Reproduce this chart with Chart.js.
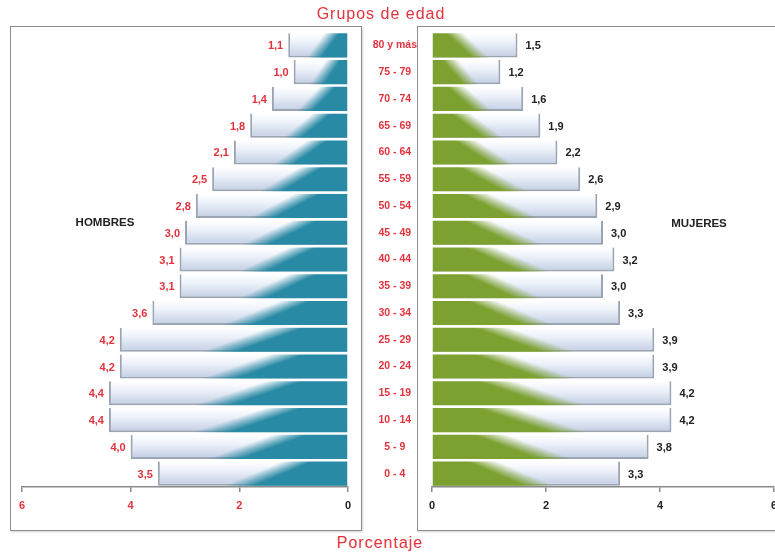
<!DOCTYPE html>
<html lang="es">
<head>
<meta charset="utf-8">
<title>Pirámide de población por grupos de edad</title>
<script src="https://cdn.jsdelivr.net/npm/chart.js@4.4.1/dist/chart.umd.min.js"></script>
<style>
  html, body { margin: 0; padding: 0; background: #fff; }
  body { position: relative; width: 775px; height: 555px; overflow: hidden; font-family: "Liberation Sans", Arial, sans-serif; }
  .panel { position: absolute; top: 26px; height: 503px; border: 1.5px solid #8e8e8e; box-shadow: 1px 1px 2px rgba(0,0,0,0.18); }
  #panel-h { left: 10px; width: 350px; }
  #panel-m { left: 417px; width: 420px; }
  .wrap { position: absolute; top: 0; height: 530px; }
  #wrap-h { left: 0; width: 365px; }
  #wrap-m { left: 365px; width: 420px; }
  .txt { position: absolute; white-space: nowrap; transform: translate(-50%, -50%); }
  .axis-title { color: #e2333d; font-size: 16px; letter-spacing: 1px; }
  .sexo { font-weight: bold; font-size: 11.5px; color: #222; }
</style>
</head>
<body>
<div class="panel" id="panel-h"></div>
<div class="panel" id="panel-m"></div>
<div class="wrap" id="wrap-h"><canvas id="chart-h"></canvas></div>
<div class="wrap" id="wrap-m"><canvas id="chart-m"></canvas></div>
<div class="txt axis-title" style="left:381px; top:14px;">Grupos de edad</div>
<div class="txt axis-title" style="left:380px; top:543px;">Porcentaje</div>
<div class="txt sexo" style="left:105px; top:222px;">HOMBRES</div>
<div class="txt sexo" style="left:699px; top:223px;">MUJERES</div>

<script>
// grupos de edad, de arriba hacia abajo
const ages = ['80 y más', '75 - 79', '70 - 74', '65 - 69', '60 - 64', '55 - 59', '50 - 54', '45 - 49',
  '40 - 44', '35 - 39', '30 - 34', '25 - 29', '20 - 24', '15 - 19', '10 - 14', '5 - 9', '0 - 4'];
const hombres = [1.1, 1.0, 1.4, 1.8, 2.1, 2.5, 2.8, 3.0, 3.1, 3.1, 3.6, 4.2, 4.2, 4.4, 4.4, 4.0, 3.5];
const mujeres = [1.5, 1.2, 1.6, 1.9, 2.2, 2.6, 2.9, 3.0, 3.2, 3.0, 3.3, 3.9, 3.9, 4.2, 4.2, 3.8, 3.3];
const xTicks = [0, 2, 4, 6];

const RED = '#e2333d';
const AXIS = '#8a8a8a';
const FONT = '"Liberation Sans", Arial, sans-serif';

// size of one bar, taken from the category scale
function barSize(chart) {
  const y = chart.scales.y;
  const pitch = Math.abs(y.getPixelForValue(1) - y.getPixelForValue(0));
  return pitch * 0.9;
}

// light part of the bar: white on top, pale blue at the bottom
function lightFill(ctx) {
  const chart = ctx.chart;
  if (ctx.dataIndex === undefined || !chart.chartArea) return '#dde5f3';
  const yc = chart.scales.y.getPixelForValue(ctx.dataIndex);
  const h = barSize(chart);
  const g = chart.ctx.createLinearGradient(0, yc - h / 2, 0, yc + h / 2);
  g.addColorStop(0, '#ffffff');
  g.addColorStop(0.35, '#eef2fa');
  g.addColorStop(1, '#c2cee4');
  return g;
}

// coloured wedge from the zero end, slanted boundary like the original gradient
function wedgeFill(rgb) {
  return (ctx) => {
    const chart = ctx.chart;
    if (ctx.dataIndex === undefined || !chart.chartArea) return 'rgb(' + rgb + ')';
    const x = chart.scales.x, y = chart.scales.y;
    const x0 = x.getPixelForValue(0);
    const L = x.getPixelForValue(ctx.raw) - x0;
    const yc = y.getPixelForValue(ctx.dataIndex);
    const h = barSize(chart);
    const cx = x0 + 0.42 * L;
    let nx = h, ny = -0.3 * L;
    const len = Math.hypot(nx, ny) || 1;
    nx /= len; ny /= len;
    if (nx * (x0 - cx) < 0) { nx = -nx; ny = -ny; }
    const w = 6;
    const g = chart.ctx.createLinearGradient(cx - nx * w, yc - ny * w, cx + nx * w, yc + ny * w);
    g.addColorStop(0, 'rgba(' + rgb + ',0)');
    g.addColorStop(1, 'rgba(' + rgb + ',1)');
    return g;
  };
}

const valueLabels = {
  id: 'valueLabels',
  afterDatasetsDraw(chart, args, opts) {
    const meta = chart.getDatasetMeta(1);
    const c = chart.ctx;
    c.save();
    c.font = 'bold 11px ' + FONT;
    c.fillStyle = opts.color;
    c.textBaseline = 'middle';
    c.textAlign = opts.side === 'left' ? 'right' : 'left';
    meta.data.forEach((bar, i) => {
      const txt = chart.data.datasets[1].data[i].toFixed(1).replace('.', ',');
      const tx = opts.side === 'left' ? bar.x - 5 : bar.x + 8;
      c.fillText(txt, tx, bar.y + 1);
    });
    c.restore();
  }
};

function xScale(reverse, extra) {
  return Object.assign({
    type: 'linear',
    min: 0,
    max: 6,
    reverse: reverse,
    afterBuildTicks: (s) => { s.ticks = xTicks.map(v => ({ value: v })); },
    afterFit: (s) => { s.height = 530 - 487; },
    border: { display: true, color: AXIS, width: 1.5 },
    grid: { display: true, drawOnChartArea: false, drawTicks: true, tickLength: 5, color: AXIS, lineWidth: 1.5 },
    ticks: { padding: 7, font: { family: FONT, size: 11, weight: 'bold' }, color: '#222' }
  }, extra);
}

function datasets(values, rgb, borders) {
  return [
    {
      data: values,
      backgroundColor: wedgeFill(rgb),
      borderWidth: 0,
      categoryPercentage: 1,
      barPercentage: 0.9
    },
    {
      data: values,
      backgroundColor: lightFill,
      borderColor: '#9ba4b3',
      borderWidth: borders,
      borderSkipped: false,
      categoryPercentage: 1,
      barPercentage: 0.9
    }
  ];
}

const common = {
  indexAxis: 'y',
  responsive: true,
  maintainAspectRatio: false,
  animation: false,
  events: [],
  datasets: { bar: { grouped: false } }
};

// hombres: eje invertido, 6 a la izquierda y 0 a la derecha
new Chart(document.getElementById('chart-h'), {
  type: 'bar',
  data: { labels: ages, datasets: datasets(hombres, '40,138,164', { top: 0, right: 0, bottom: 2, left: 2 }) },
  options: Object.assign({}, common, {
    layout: { padding: { left: 22, right: 17, top: 32, bottom: 0 } },
    plugins: { legend: { display: false }, tooltip: { enabled: false }, valueLabels: { color: RED, side: 'left' } },
    scales: {
      x: xScale(true, {
        ticks: { padding: 7, font: { family: FONT, size: 11, weight: 'bold' }, color: (c) => c.tick.value === 0 ? '#222' : RED }
      }),
      y: { type: 'category', display: false }
    }
  }),
  plugins: [valueLabels]
});

// mujeres, con los grupos de edad como etiquetas del eje y
new Chart(document.getElementById('chart-m'), {
  type: 'bar',
  data: { labels: ages, datasets: datasets(mujeres, '124,161,48', { top: 0, right: 2, bottom: 2, left: 0 }) },
  options: Object.assign({}, common, {
    layout: { padding: { left: 0, right: 11, top: 32, bottom: 0 } },
    plugins: { legend: { display: false }, tooltip: { enabled: false }, valueLabels: { color: '#222', side: 'right' } },
    scales: {
      x: xScale(false, {}),
      y: {
        type: 'category',
        afterFit: (s) => { s.width = 67; },
        border: { display: false },
        grid: { display: false, drawTicks: false },
        ticks: { crossAlign: 'center', padding: 15, color: RED, font: { family: FONT, size: 10.5, weight: 'bold' } }
      }
    }
  }),
  plugins: [valueLabels]
});
</script>
</body>
</html>
